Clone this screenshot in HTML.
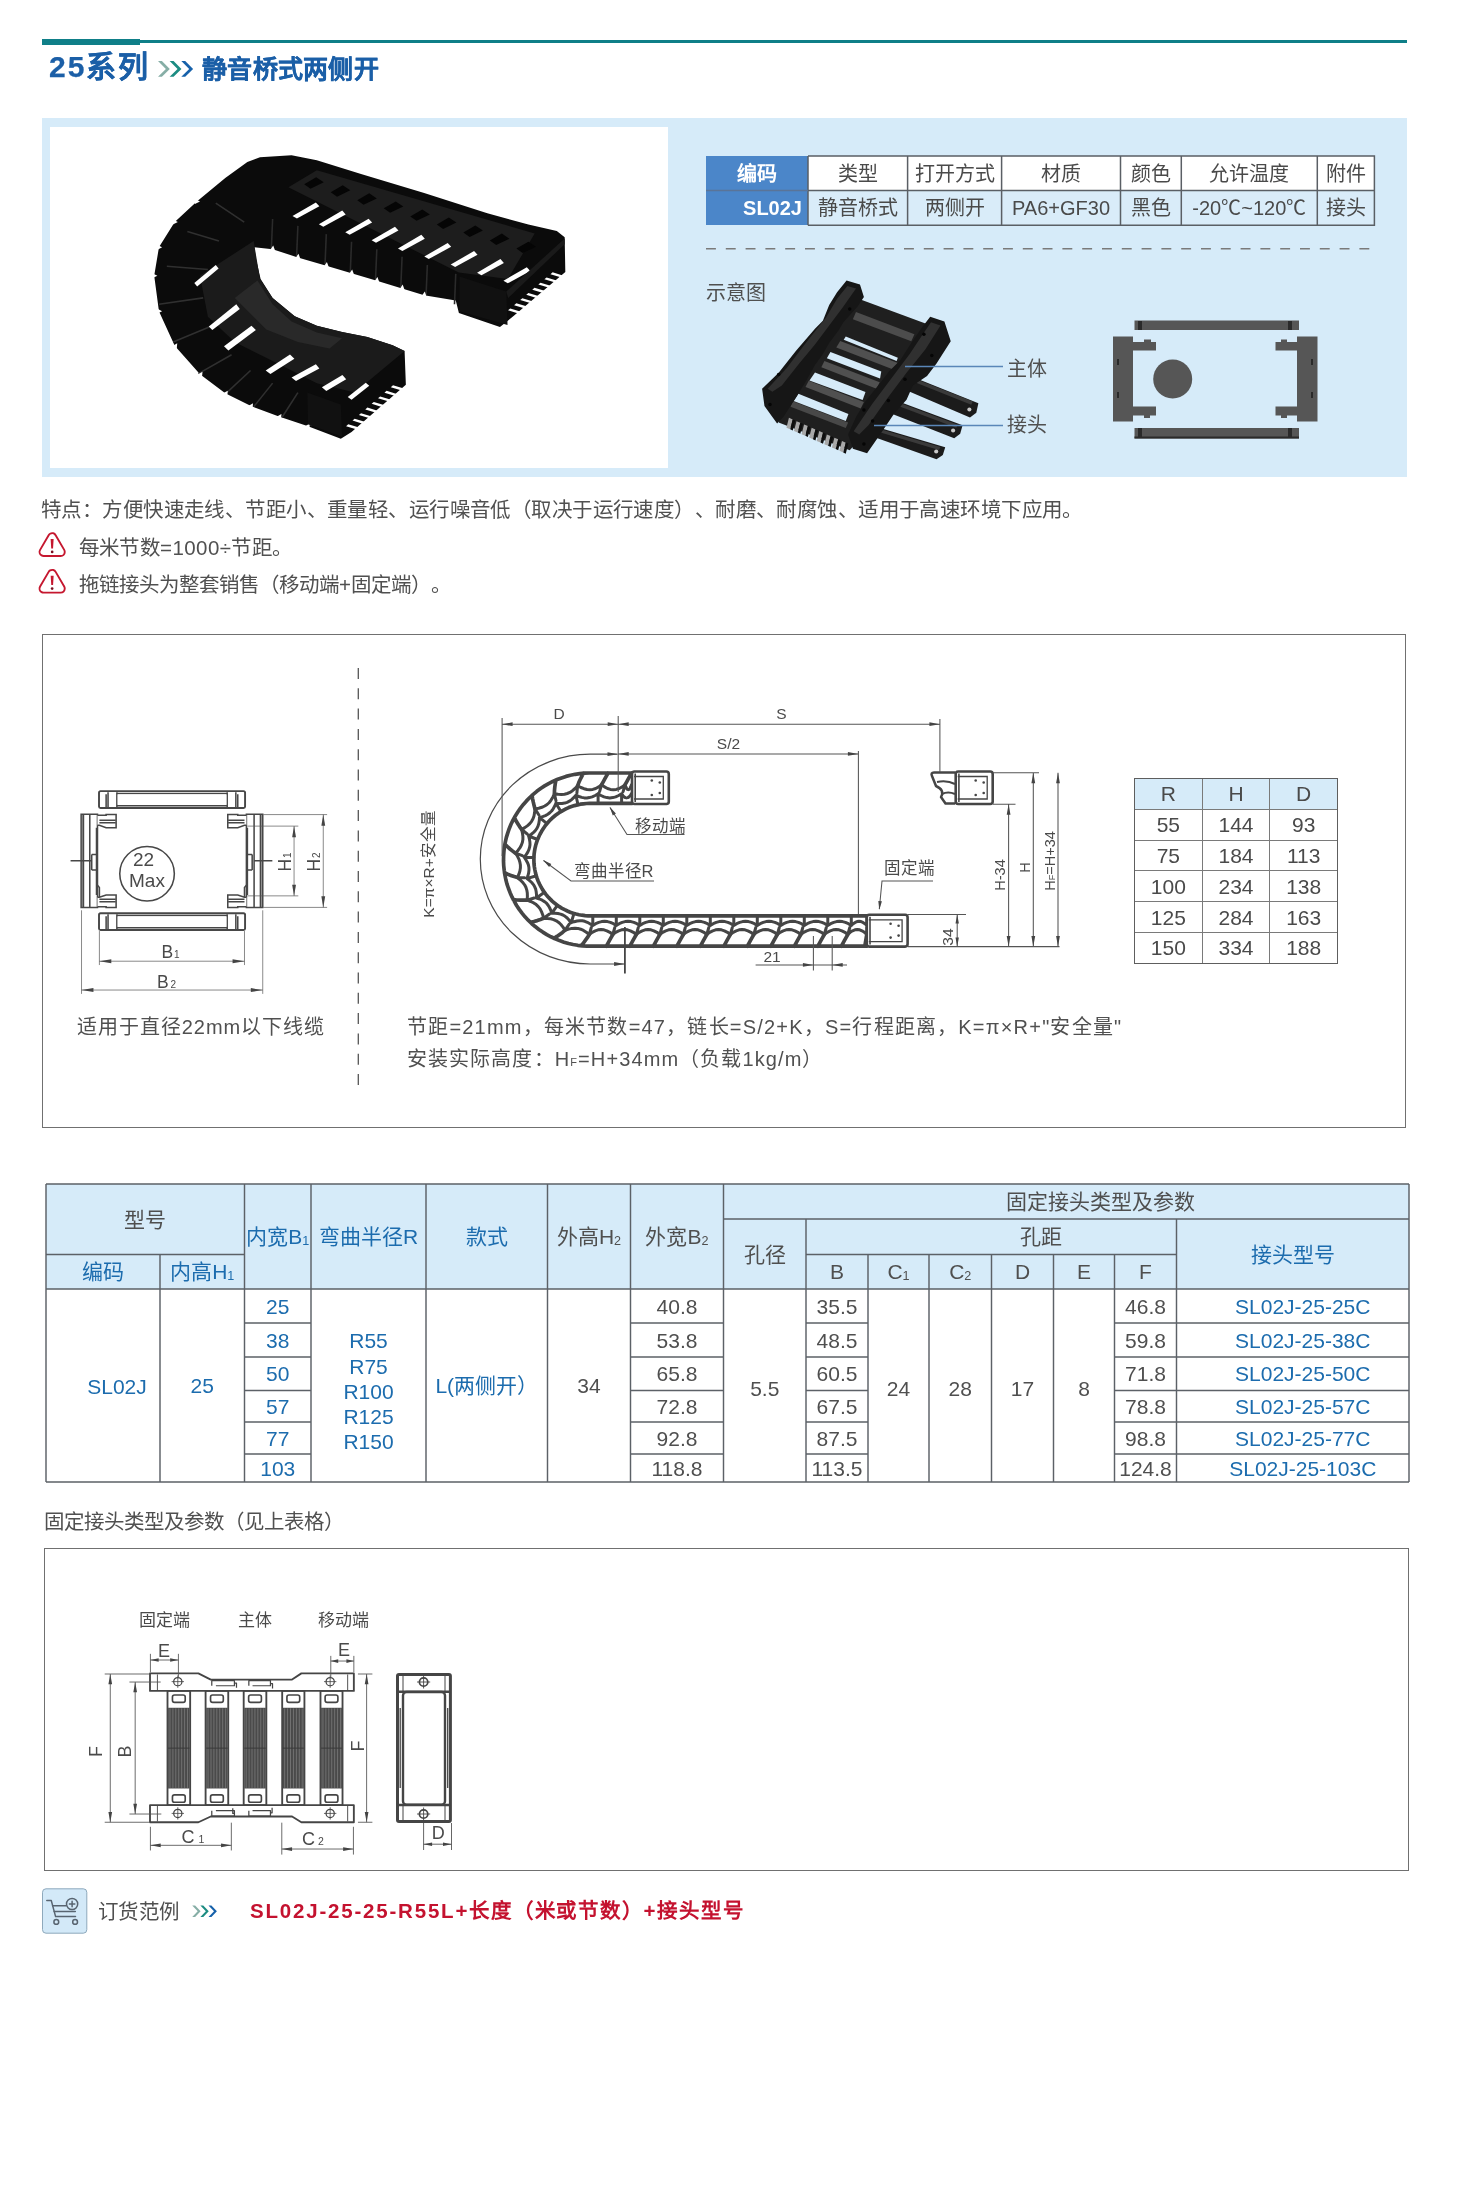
<!DOCTYPE html>
<html lang="zh-CN">
<head>
<meta charset="utf-8">
<title>25系列 静音桥式两侧开</title>
<style>
*{box-sizing:border-box;margin:0;padding:0}
html,body{width:1457px;height:2189px;background:#fff;overflow:hidden}
body{will-change:transform;text-spacing-trim:space-all;position:relative;font-family:"Liberation Sans",sans-serif;color:#505050;font-size:20px}
.abs{position:absolute}
.t{position:absolute;white-space:nowrap;line-height:1}
svg{position:absolute;overflow:visible}
sub{font-size:60%;vertical-align:baseline;position:relative;top:1px}
/* header */
#hl1{left:42px;top:40px;width:1365px;height:3px;background:#0f7f88}
#hl2{left:42px;top:39px;width:98px;height:6px;background:#0f7f88}
#title1,#title2{-webkit-text-stroke:.25px #1b5fa7}
#title1{left:49px;top:52px;font-size:30px;font-weight:bold;color:#1b5fa7;letter-spacing:2px}
#title2{left:202px;top:57px;letter-spacing:.25px;font-size:25px;font-weight:bold;color:#1b5fa7}
/* panel */
#panel{left:42px;top:118px;width:1365px;height:359px;background:#d6ebf9}
#photo{left:50px;top:127px;width:618px;height:341px;background:#fff}
/* spec table */
table{border-collapse:collapse;position:absolute;table-layout:fixed}
#spec{left:706px;top:156px;width:668.4px;height:69.2px;font-size:20px;color:#4a4a4a}
#spec td{border:0;text-align:center;padding:0;height:34.6px;line-height:1;white-space:nowrap;overflow:hidden}
#spec tr:first-child td{background:#fff}
#spec tr:last-child td{background:#d9ecf9}
#spec td.h{background:#4b86c9 !important;color:#fff;font-weight:bold}
#spec tr:first-child td{padding-top:2px}
#dash{left:706px;top:248px;width:668px;height:0;border-top:1.5px dashed #7a7a7a}
/* notes */
.note{font-size:20.5px;color:#505050}
/* boxes */
.box{position:absolute;border:1px solid #707070;background:#fff}
/* rhd table */
#rhd{left:1134px;top:778px;width:204px;height:185px;font-size:21px;color:#4a4a4a}
#rhd td{border:1.3px solid #7a7a7a;text-align:center;padding:0;line-height:1;height:30.8px}
#rhd tr:first-child td{background:#d6ebf9}
#rhd{outline:1.6px solid #5e5e5e;outline-offset:-1px}
/* main table */
#main{left:46px;top:1183px;width:1364px;font-size:21px;color:#4f4f4f}
#main td{border:0;text-align:center;vertical-align:middle;padding:0;line-height:1;white-space:nowrap}
#main td.hd{background:#d6ebf9}
#main .b{color:#1c6cae}
#main td.rr{line-height:25.3px}
</style>
</head>
<body>
<!-- header -->
<div class="abs" id="hl1"></div>
<div class="abs" id="hl2"></div>
<div class="t" id="title1">25系列</div>
<svg id="chev1" style="left:0;top:0" width="300" height="81" viewBox="0 0 300 81"><path fill="#86aea6" d="M158 61.1 L161.9 61.1 L169.8 68.95 L161.9 76.8 L158 76.8 L165.9 68.95Z"/><path fill="#1c8c82" d="M169.65 61.1 L173.55 61.1 L181.45 68.95 L173.55 76.8 L169.65 76.8 L177.55 68.95Z"/><path fill="#1661aa" d="M181.3 61.1 L185.2 61.1 L193.1 68.95 L185.2 76.8 L181.3 76.8 L189.2 68.95Z"/></svg>
<div class="t" id="title2">静音桥式两侧开</div>

<!-- top panel -->
<div class="abs" id="panel"></div>
<div class="abs" id="photo"></div>
<!--PH0-->
<svg id="photoSvg" style="left:0;top:0" width="700" height="480" viewBox="0 0 700 480">
<g transform="translate(140,140) scale(0.31575)">
<path fill="#0b0b0b"  d="M380 55 L480 48 L560 64 L700 108 L900 168 L1100 232 L1230 268 L1320 288 L1345 308 L1347 418 L1184 557 L1140 592 L1010 548 L1000 508 L900 492 L830 470 L750 446 L670 422 L590 398 L500 372 L420 346 L362 340 L368 380 L382 440 L420 500 L490 558 L560 588 L640 608 L720 624 L800 650 L838 668 L842 775 L670 925 L636 946 L530 906 L440 876 L350 842 L270 802 L190 742 L110 652 L60 542 L45 430 L60 340 L110 260 L180 195 L270 120 L340 70 Z"/>
<path fill="#1d1d1d"  d="M470 150 L560 96 L1250 296 L1165 440 L1010 420 Z"/>
<path fill="#1b1b1b"  d="M190 430 L360 320 L380 440 L420 500 L490 558 L560 588 L640 608 L720 624 L800 650 L838 668 L680 800 L560 770 L420 700 L300 640 L215 560 Z"/>
<path fill="#292929"  d="M300 500 L372 445 L420 520 L480 575 L560 610 L640 628 L600 660 L500 640 L400 600 Z"/>
<path fill="#050505"  d="M520 140 L558 118 L582 134 L540 154 Z"/>
<path fill="#050505"  d="M604 165.5 L642 143.5 L666 159.5 L624 179.5 Z"/>
<path fill="#050505"  d="M688 191 L726 169 L750 185 L708 205 Z"/>
<path fill="#050505"  d="M772 216.5 L810 194.5 L834 210.5 L792 230.5 Z"/>
<path fill="#050505"  d="M856 242 L894 220 L918 236 L876 256 Z"/>
<path fill="#050505"  d="M940 267.5 L978 245.5 L1002 261.5 L960 281.5 Z"/>
<path fill="#050505"  d="M1024 293 L1062 271 L1086 287 L1044 307 Z"/>
<path fill="#050505"  d="M1108 318.5 L1146 296.5 L1170 312.5 L1128 332.5 Z"/>
<path fill="#050505"  d="M1192 344 L1230 322 L1254 338 L1212 358 Z"/>
<path d="M420 250 l-4 96" stroke="#2b2b2b" stroke-width="5" fill="none"/>
<path d="M500 272 l-4 96" stroke="#2b2b2b" stroke-width="5" fill="none"/>
<path d="M590 298 l-4 96" stroke="#2b2b2b" stroke-width="5" fill="none"/>
<path d="M670 322 l-4 96" stroke="#2b2b2b" stroke-width="5" fill="none"/>
<path d="M750 346 l-4 96" stroke="#2b2b2b" stroke-width="5" fill="none"/>
<path d="M830 370 l-4 96" stroke="#2b2b2b" stroke-width="5" fill="none"/>
<path d="M910 396 l-4 96" stroke="#2b2b2b" stroke-width="5" fill="none"/>
<path d="M1000 424 l-4 96" stroke="#2b2b2b" stroke-width="5" fill="none"/>
<path d="M240 200 L330 260" stroke="#303030" stroke-width="5" fill="none"/>
<path d="M150 290 L250 320" stroke="#303030" stroke-width="5" fill="none"/>
<path d="M85 400 L215 410" stroke="#303030" stroke-width="5" fill="none"/>
<path d="M60 520 L200 500" stroke="#303030" stroke-width="5" fill="none"/>
<path d="M105 640 L225 590" stroke="#303030" stroke-width="5" fill="none"/>
<path d="M185 740 L290 680" stroke="#303030" stroke-width="5" fill="none"/>
<path d="M275 800 L350 730" stroke="#303030" stroke-width="5" fill="none"/>
<path d="M360 845 L420 770" stroke="#303030" stroke-width="5" fill="none"/>
<path d="M450 878 L500 800" stroke="#303030" stroke-width="5" fill="none"/>
<path d="M540 905 L585 830" stroke="#303030" stroke-width="5" fill="none"/>
<path fill="#fff"  d="M483 241 L557 198 L568 210 L497 249 Z"/>
<path fill="#fff"  d="M566.5 266.6 L640.5 223.6 L651.5 235.6 L580.5 274.6 Z"/>
<path fill="#fff"  d="M650 292.2 L724 249.2 L735 261.2 L664 300.2 Z"/>
<path fill="#fff"  d="M733.5 317.8 L807.5 274.8 L818.5 286.8 L747.5 325.8 Z"/>
<path fill="#fff"  d="M817 343.4 L891 300.4 L902 312.4 L831 351.4 Z"/>
<path fill="#fff"  d="M900.5 369 L974.5 326 L985.5 338 L914.5 377 Z"/>
<path fill="#fff"  d="M984 394.6 L1058 351.6 L1069 363.6 L998 402.6 Z"/>
<path fill="#fff"  d="M1067.5 420.2 L1141.5 377.2 L1152.5 389.2 L1081.5 428.2 Z"/>
<path fill="#fff"  d="M1151 445.8 L1225 402.8 L1236 414.8 L1165 453.8 Z"/>
<path fill="#fff"  d="M172 453 L240 396 L249 407 L181 464 Z"/>
<path fill="#fff"  d="M218 591 L305 520 L316 535 L229 602 Z"/>
<path fill="#fff"  d="M266 653 L353 588 L367 602 L280 667 Z"/>
<path fill="#fff"  d="M398 730 L475 679 L489 693 L413 741 Z"/>
<path fill="#fff"  d="M480 752 L557 710 L568 724 L494 763 Z"/>
<path fill="#fff"  d="M576 783 L641 744 L653 758 L590 795 Z"/>
<path fill="#fff"  d="M658 814 L715 769 L726 778 L670 823 Z"/>
<path fill="#fff"  d="M1341.2 429.6 L1334.4 435.4 L1300 425 L1306.8 419.1 Z"/>
<path fill="#fff"  d="M1322.1 445.9 L1315.2 451.7 L1280.8 441.3 L1287.6 435.5 Z"/>
<path fill="#fff"  d="M1302.9 462.3 L1296 468.1 L1261.6 457.7 L1268.5 451.8 Z"/>
<path fill="#fff"  d="M1283.7 478.6 L1276.9 484.5 L1242.4 474 L1249.3 468.2 Z"/>
<path fill="#fff"  d="M1264.5 495 L1257.7 500.8 L1223.3 490.4 L1230.1 484.5 Z"/>
<path fill="#fff"  d="M1245.3 511.3 L1238.5 517.2 L1204.1 506.7 L1210.9 500.9 Z"/>
<path fill="#fff"  d="M1226.2 527.7 L1219.3 533.5 L1184.9 523.1 L1191.8 517.2 Z"/>
<path fill="#fff"  d="M1207 544 L1200.1 549.9 L1165.7 539.4 L1172.6 533.6 Z"/>
<path fill="#fff"  d="M835.6 787.3 L828.8 793.2 L794.4 782.8 L801.2 776.9 Z"/>
<path fill="#fff"  d="M815.4 805 L808.6 810.9 L774.2 800.5 L780.9 794.5 Z"/>
<path fill="#fff"  d="M795.1 822.6 L788.3 828.5 L753.9 818.1 L760.7 812.2 Z"/>
<path fill="#fff"  d="M774.9 840.3 L768.1 846.2 L733.7 835.7 L740.5 829.8 Z"/>
<path fill="#fff"  d="M754.7 857.9 L747.9 863.8 L713.5 853.4 L720.2 847.5 Z"/>
<path fill="#fff"  d="M734.4 875.6 L727.6 881.5 L693.2 871 L700 865.1 Z"/>
<path fill="#fff"  d="M714.2 893.2 L707.4 899.1 L673 888.7 L679.8 882.8 Z"/>
<path fill="#fff"  d="M693.9 910.9 L687.2 916.8 L652.7 906.3 L659.5 900.4 Z"/>
<path fill="#fff"  d="M411 350 L429 354 L422 334 Z"/>
<path fill="#fff"  d="M491 376 L509 380 L502 360 Z"/>
<path fill="#fff"  d="M581 402 L599 406 L592 386 Z"/>
<path fill="#fff"  d="M661 426 L679 430 L672 410 Z"/>
<path fill="#fff"  d="M741 450 L759 454 L752 434 Z"/>
<path fill="#fff"  d="M821 474 L839 478 L832 458 Z"/>
<path fill="#fff"  d="M891 496 L909 500 L902 480 Z"/>
<path fill="#fff"  d="M100 654 L116 664 L118 644 Z"/>
<path fill="#fff"  d="M180 744 L196 754 L198 734 Z"/>
<path fill="#fff"  d="M260 804 L276 814 L278 794 Z"/>
<path fill="#fff"  d="M340 844 L356 854 L358 834 Z"/>
<path fill="#fff"  d="M430 878 L446 888 L448 868 Z"/>
<path fill="#fff"  d="M520 908 L536 918 L538 898 Z"/>
<path fill="#fff"  d="M54 534 L54 550 L70 542 Z"/>
<path fill="#fff"  d="M39 422 L39 438 L55 430 Z"/>
<path fill="#fff"  d="M54 332 L54 348 L70 340 Z"/>
<path fill="#fff"  d="M104 252 L104 268 L120 260 Z"/>
<path fill="#fff"  d="M174 187 L174 203 L190 195 Z"/>
<path fill="#111"  d="M1012 432 L1160 480 L1164 586 L1012 542 Z"/>
<path fill="#1a1a1a"  d="M1160 480 L1345 312 L1345 330 L1166 500 Z"/>
<path fill="#111"  d="M530 800 L636 838 L640 940 L532 900 Z"/>
</g></svg>
<!--PH1-->

<table id="spec">
<colgroup><col style="width:102px"><col style="width:99.6px"><col style="width:94px"><col style="width:118.9px"><col style="width:60.8px"><col style="width:136px"><col style="width:57.1px"></colgroup>
<tr><td class="h">编码</td><td>类型</td><td>打开方式</td><td>材质</td><td>颜色</td><td>允许温度</td><td>附件</td></tr>
<tr><td class="h" style="text-align:right;padding-right:6px">SL02J</td><td>静音桥式</td><td>两侧开</td><td>PA6+GF30</td><td>黑色</td><td>-20℃~120℃</td><td>接头</td></tr>
</table>
<svg style="left:0;top:0" width="1400" height="260"><path d="M706 248.8H1374" stroke="#7a7a7a" stroke-width="1.4" stroke-dasharray="9.9 9.9" fill="none"/></svg>
<svg style="left:0;top:0" width="1400" height="240"><path d="M808 156H1374.4V225.2H808M808 190.6H1374.4M808 156V225.2M907.6 156V225.2M1001.6 156V225.2M1120.5 156V225.2M1181.3 156V225.2M1317.3 156V225.2" fill="none" stroke="#5a5f65" stroke-width="1.5"/><path d="M706 190.6H808" stroke="#5a7498" stroke-width="1.5"/></svg>
<div class="t" style="left:706px;top:283px;font-size:20px">示意图</div>
<!--IS0-->
<svg id="isoSvg" style="left:0;top:0" width="1100" height="480" viewBox="0 0 1100 480">
<g transform="translate(755,275) scale(0.15785)">
<path fill="#1b1b1b"  d="M960 630 L1415 812 L1402 872 L1362 902 L940 722 Z"/>
<path fill="#1b1b1b"  d="M880 790 L1315 952 L1300 1005 L1262 1034 L850 872 Z"/>
<path fill="#1b1b1b"  d="M760 960 L1205 1092 L1190 1140 L1150 1168 L740 1022 Z"/>
<path fill="#3a3a3a"  d="M990 648 L1380 802 L1370 822 L985 668 Z"/>
<path fill="#3a3a3a"  d="M905 806 L1285 948 L1275 968 L900 826 Z"/>
<path fill="#3a3a3a"  d="M790 976 L1175 1090 L1165 1108 L785 994 Z"/>
<circle cx="1358" cy="852" r="13" fill="#c8c8c8"/>
<circle cx="1255" cy="985" r="13" fill="#c8c8c8"/>
<circle cx="1148" cy="1118" r="13" fill="#c8c8c8"/>
<path fill="#1f1f1f"  d="M600 130 L1110 318 L700 1000 L600 1110 L150 935 L190 800 Z"/>
<path fill="#4c4c4c"  d="M640 235 L1010 375 L990 420 L620 280 Z"/>
<path fill="#505050"  d="M540 418 L905 558 L880 600 L515 460 Z"/>
<path fill="#505050"  d="M440 545 L790 680 L770 720 L420 585 Z"/>
<path fill="#505050"  d="M340 670 L690 805 L670 845 L320 710 Z"/>
<path fill="#484848"  d="M240 800 L590 935 L575 970 L225 835 Z"/>
<path fill="#d6ebf9"  d="M575 390 L905 525 L897 545 L562 410 Z"/>
<path fill="#d6ebf9"  d="M478 488 L800 612 L792 655 L455 528 Z"/>
<path fill="#d6ebf9"  d="M380 618 L700 742 L682 792 L345 668 Z"/>
<path fill="#d6ebf9"  d="M275 752 L592 880 L575 925 L245 798 Z"/>
<path fill="#a8a8a8"  d="M215 905 L239 915 L223 977 L199 967 Z"/>
<path fill="#0e0e0e"  d="M239 915 L255 921 L239 985 L223 977 Z"/>
<path fill="#a8a8a8"  d="M263 926 L287 936 L271 998 L247 988 Z"/>
<path fill="#0e0e0e"  d="M287 936 L303 942 L287 1006 L271 998 Z"/>
<path fill="#a8a8a8"  d="M311 947 L335 957 L319 1019 L295 1009 Z"/>
<path fill="#0e0e0e"  d="M335 957 L351 963 L335 1027 L319 1019 Z"/>
<path fill="#a8a8a8"  d="M359 968 L383 978 L367 1040 L343 1030 Z"/>
<path fill="#0e0e0e"  d="M383 978 L399 984 L383 1048 L367 1040 Z"/>
<path fill="#a8a8a8"  d="M407 989 L431 999 L415 1061 L391 1051 Z"/>
<path fill="#0e0e0e"  d="M431 999 L447 1005 L431 1069 L415 1061 Z"/>
<path fill="#a8a8a8"  d="M455 1010 L479 1020 L463 1082 L439 1072 Z"/>
<path fill="#0e0e0e"  d="M479 1020 L495 1026 L479 1090 L463 1082 Z"/>
<path fill="#a8a8a8"  d="M503 1031 L527 1041 L511 1103 L487 1093 Z"/>
<path fill="#0e0e0e"  d="M527 1041 L543 1047 L527 1111 L511 1103 Z"/>
<path fill="#a8a8a8"  d="M551 1052 L575 1062 L559 1124 L535 1114 Z"/>
<path fill="#0e0e0e"  d="M575 1062 L591 1068 L575 1132 L559 1124 Z"/>
<path fill="#161616"  d="M580 35 L665 60 L690 140 L650 200 L560 300 L530 350 L470 430 L430 500 L380 570 L330 660 L270 760 L180 900 L140 940 L60 830 L45 720 L150 620 L260 480 L320 410 L380 340 L430 290 L470 190 L520 110 Z"/>
<path fill="#303030"  d="M585 70 L640 85 L560 200 L470 320 L380 440 L280 560 L170 700 L110 740 L80 720 L200 590 L330 420 L450 270 L520 150 Z"/>
<path fill="#161616"  d="M1110 265 L1200 295 L1240 420 L1150 560 L1090 640 L1000 700 L960 790 L880 880 L800 1000 L710 1130 L620 1100 L590 1010 L640 900 L700 800 L780 700 L850 610 L920 540 L990 430 L1060 330 Z"/>
<path fill="#303030"  d="M1115 300 L1175 320 L1080 470 L960 620 L840 780 L720 950 L660 1010 L625 990 L740 820 L860 660 L980 500 L1060 380 Z"/>
<circle cx="1070" cy="375" r="11" fill="#050505"/>
<circle cx="1120" cy="510" r="11" fill="#050505"/>
<circle cx="950" cy="660" r="11" fill="#050505"/>
<circle cx="845" cy="795" r="11" fill="#050505"/>
<circle cx="690" cy="855" r="11" fill="#050505"/>
<circle cx="745" cy="925" r="11" fill="#050505"/>
<circle cx="690" cy="1070" r="11" fill="#050505"/>
<circle cx="150" cy="630" r="11" fill="#050505"/>
<circle cx="95" cy="820" r="11" fill="#050505"/>
<circle cx="600" cy="215" r="11" fill="#050505"/>
</g>
<path d="M905 366.5H1003 M874 425.5H1003" stroke="#5a86b8" stroke-width="1.3" fill="none"/>
</svg>
<!--IS1-->
<!--SE0-->
<svg id="secSvg" style="left:0;top:0" width="1400" height="480" viewBox="0 0 1400 480">
<g fill="#565656">
<rect x="1134.5" y="320.5" width="164.5" height="9.5"/><rect x="1134.5" y="428" width="164.5" height="10.5"/>
<rect x="1113" y="336.5" width="20" height="85"/><rect x="1297" y="336.5" width="20.5" height="85"/>
<rect x="1133" y="342" width="23" height="8.5"/><rect x="1133" y="406.5" width="23" height="9"/>
<rect x="1275.5" y="342" width="22" height="8.5"/><rect x="1275.5" y="406.5" width="22" height="9"/>
<rect x="1144" y="339.5" width="7" height="3"/><rect x="1144" y="415" width="6" height="3"/><rect x="1281" y="339.5" width="6" height="3"/><rect x="1281" y="415" width="6" height="3"/>
<circle cx="1172.7" cy="379" r="19.5"/>
</g>
<g fill="#2a2a2a"><rect x="1138" y="321" width="4" height="9"/><rect x="1288" y="321" width="4" height="9"/><rect x="1138" y="428" width="4" height="10"/><rect x="1288" y="428" width="4" height="10"/>
<rect x="1134.5" y="436.5" width="164.5" height="2"/>
<rect x="1117" y="359" width="2" height="6"/><rect x="1117" y="392" width="2" height="6"/><rect x="1311" y="359" width="2" height="6"/><rect x="1311" y="392" width="2" height="6"/></g>
</svg>
<!--SE1-->
<div class="t" style="left:1007px;top:359px;font-size:20px">主体</div>
<div class="t" style="left:1007px;top:415px;font-size:20px">接头</div>

<!-- notes -->
<div class="t note" style="left:41px;top:500px;letter-spacing:.43px">特点：方便快速走线、节距小、重量轻、运行噪音低（取决于运行速度）、耐磨、耐腐蚀、适用于高速环境下应用。</div>
<svg id="warnSvg" style="left:0;top:0" width="120" height="620" viewBox="0 0 120 620"><path d="M52.15 537.2 L43.6 551.9 L60.7 551.9Z" fill="#c5172f" stroke="#c5172f" stroke-width="10" stroke-linejoin="round"/><path d="M52.15 537.2 L43.6 551.9 L60.7 551.9Z" fill="#fff" stroke="#fff" stroke-width="6.2" stroke-linejoin="round"/><path d="M52.15 539 l-1.5 0 l0.6 9.4 l1.8 0 l0.6 -9.4z" fill="#c5172f"/><circle cx="52.15" cy="551.9" r="1.35" fill="#7a1020"/><path d="M52.15 573.9 L43.6 588.6 L60.7 588.6Z" fill="#c5172f" stroke="#c5172f" stroke-width="10" stroke-linejoin="round"/><path d="M52.15 573.9 L43.6 588.6 L60.7 588.6Z" fill="#fff" stroke="#fff" stroke-width="6.2" stroke-linejoin="round"/><path d="M52.15 575.7 l-1.5 0 l0.6 9.4 l1.8 0 l0.6 -9.4z" fill="#c5172f"/><circle cx="52.15" cy="588.6" r="1.35" fill="#7a1020"/></svg>
<div class="t note" style="left:78.5px;top:538px;letter-spacing:.4px">每米节数=1000÷节距。</div>
<div class="t note" style="left:78.5px;top:575px;letter-spacing:.03px">拖链接头为整套销售（移动端+固定端）。</div>

<!-- diagram box 1 -->
<div class="box" style="left:42px;top:634px;width:1364px;height:494px"></div>
<!--D1A0-->
<svg id="d1a" style="left:0;top:0" width="480" height="1130" viewBox="0 0 480 1130">
<g transform="translate(60,770) scale(0.192175)" fill="none" stroke="#474747" stroke-linecap="butt">
<rect x="203" y="110" width="760" height="88" rx="8" stroke-width="10" fill="#fff"/><path d="M240 126 V192 M250 116 V192 M296 116 V192 M870 116 V192 M915 116 V192 M925 126 V192" stroke-width="8"/><path d="M296 122 H870" stroke-width="8"/><path d="M296 186 H870" stroke-width="8"/><rect x="300" y="127" width="566" height="54" fill="#fff" stroke="none"/>
<rect x="203" y="745" width="760" height="88" rx="8" stroke-width="10" fill="#fff"/><path d="M240 761 V827 M250 751 V827 M296 751 V827 M870 751 V827 M915 751 V827 M925 761 V827" stroke-width="8"/><path d="M296 757 H870" stroke-width="8"/><path d="M296 821 H870" stroke-width="8"/><rect x="300" y="762" width="566" height="54" fill="#fff" stroke="none"/>
<g><path d="M110 230 H195 V716 H110 Z" stroke-width="8" fill="#fff"/><path d="M121 230 V716" stroke-width="10"/><path d="M155 232 V714 M190 300 V650" stroke-width="8"/><path d="M165 440 H190 M165 520 H190 M165 440 V520" stroke-width="8"/><path d="M195 236 H240 V232 H292 V300 H240 L205 288 H195" stroke-width="8" fill="#fff"/><path d="M205 262 H290 M205 275 H290" stroke-width="8"/><path d="M195 712 H240 V716 H292 V650 H240 L205 662 H195" stroke-width="8" fill="#fff"/><path d="M205 686 H290 M205 673 H290" stroke-width="8"/><path d="M195 600 L205 612 V662" stroke-width="8"/></g>
<g transform="translate(1165,0) scale(-1,1)"><path d="M110 230 H195 V716 H110 Z" stroke-width="8" fill="#fff"/><path d="M121 230 V716" stroke-width="10"/><path d="M155 232 V714 M190 300 V650" stroke-width="8"/><path d="M165 440 H190 M165 520 H190 M165 440 V520" stroke-width="8"/><path d="M195 236 H240 V232 H292 V300 H240 L205 288 H195" stroke-width="8" fill="#fff"/><path d="M205 262 H290 M205 275 H290" stroke-width="8"/><path d="M195 712 H240 V716 H292 V650 H240 L205 662 H195" stroke-width="8" fill="#fff"/><path d="M205 686 H290 M205 673 H290" stroke-width="8"/><path d="M195 600 L205 612 V662" stroke-width="8"/></g>
<circle cx="453" cy="540" r="142" stroke-width="8"/>
<path d="M55 472 H165 M1010 472 H1105" stroke-width="8"/>
<g stroke="#555" stroke-width="3.6">
<path d="M975 292 H1240 M975 655 H1240 M1218 292 V655"/>
<path d="M1058 232 H1390 M1058 715 H1390 M1370 232 V715"/>
<path d="M205 838 V1015 M960 838 V1015 M205 995 H960"/>
<path d="M112 730 V1165 M1055 730 V1165 M112 1145 H1055"/>
</g>
<g fill="#444" stroke="none">
<path d="M1218 292 L1228 350 L1208 350 Z"/><path d="M1218 655 L1208 597 L1228 597 Z"/><path d="M1370 232 L1380 290 L1360 290 Z"/><path d="M1370 715 L1360 657 L1380 657 Z"/>
<path d="M205 995 L267 985 L267 1005 Z"/><path d="M960 995 L898 1005 L898 985 Z"/><path d="M112 1145 L174 1135 L174 1155 Z"/><path d="M1055 1145 L993 1155 L993 1135 Z"/>
</g>
</g>
<text x="143.5" y="865.5" font-size="19" text-anchor="middle" font-family="Liberation Sans, sans-serif" fill="#4a4a4a">22</text>
<text x="147" y="886.5" font-size="19" text-anchor="middle" font-family="Liberation Sans, sans-serif" fill="#4a4a4a">Max</text>
<text x="170.5" y="958" font-size="17.5" text-anchor="middle" font-family="Liberation Sans, sans-serif" fill="#4a4a4a">B<tspan font-size="10" dx="1">1</tspan></text>
<text x="166.5" y="988" font-size="17.5" text-anchor="middle" font-family="Liberation Sans, sans-serif" fill="#4a4a4a">B<tspan font-size="10" dx="2">2</tspan></text>
<text transform="translate(290.5,862) rotate(-90)" font-size="17.5" text-anchor="middle" font-family="Liberation Sans, sans-serif" fill="#4a4a4a">H<tspan font-size="10" dx="1">1</tspan></text>
<text transform="translate(320,862) rotate(-90)" font-size="17.5" text-anchor="middle" font-family="Liberation Sans, sans-serif" fill="#4a4a4a">H<tspan font-size="10" dx="1">2</tspan></text>
<path d="M358.3 668 V1093" stroke="#555" stroke-width="1.3" stroke-dasharray="11 9.3" fill="none"/>
<text transform="translate(433.5,864) rotate(-90)" font-size="15.5" text-anchor="middle" font-family="Liberation Sans, sans-serif" fill="#4a4a4a">K=π×R+安全量</text>
</svg>
<!--D1A1-->
<!--D1B0-->
<svg id="d1b" style="left:0;top:0" width="1120" height="1130" viewBox="0 0 1120 1130">
<g fill="none" stroke="#454545" stroke-linejoin="round" stroke-linecap="round">
<path d="M632.0 773.0 L628.1 773.0 L624.2 773.0 L620.4 773.0 L616.5 773.0 L612.6 773.0 L608.7 773.0 L604.9 773.0 L601.0 773.0 L597.1 773.0 L593.2 773.0 L589.2 773.0 L584.5 773.2 L579.8 773.6 L575.1 774.3 L570.5 775.2 L566.0 776.4 L561.5 777.9 L557.1 779.5 L552.8 781.4 L548.6 783.6 L544.6 785.9 L540.6 788.5 L536.8 791.3 L533.2 794.3 L529.8 797.5 L526.5 800.9 L523.4 804.4 L520.5 808.1 L517.8 812.0 L515.3 816.0 L513.0 820.1 L511.0 824.3 L509.2 828.7 L507.7 833.1 L506.3 837.6 L505.3 842.2 L504.4 846.8 L503.9 851.5 L503.6 856.2 L503.5 860.9 L503.7 865.6 L504.2 870.3 L504.9 874.9 L505.8 879.5 L507.0 884.1 L508.5 888.5 L510.2 892.9 L512.1 897.2 L514.3 901.4 L516.6 905.5 L519.2 909.4 L522.0 913.1 L525.0 916.8 L528.2 920.2 L531.6 923.5 L535.2 926.6 L538.9 929.4 L542.8 932.1 L546.8 934.6 L550.9 936.8 L555.2 938.8 L559.5 940.6 L564.0 942.2 L568.5 943.5 L573.1 944.5 L577.7 945.3 L582.4 945.9 L587.1 946.1 L591.5 946.2 L595.3 946.2 L599.2 946.2 L603.1 946.2 L607.0 946.2 L610.9 946.2 L614.7 946.2 L618.6 946.2 L622.5 946.2 L626.4 946.2 L630.2 946.2 L634.1 946.2 L638.0 946.2 L641.9 946.2 L645.8 946.2 L649.6 946.2 L653.5 946.2 L657.4 946.2 L661.3 946.2 L665.1 946.2 L669.0 946.2 L672.9 946.2 L676.8 946.2 L680.7 946.2 L684.5 946.2 L688.4 946.2 L692.3 946.2 L696.2 946.2 L700.0 946.2 L703.9 946.2 L707.8 946.2 L711.7 946.2 L715.6 946.2 L719.4 946.2 L723.3 946.2 L727.2 946.2 L731.1 946.2 L735.0 946.2 L738.8 946.2 L742.7 946.2 L746.6 946.2 L750.5 946.2 L754.3 946.2 L758.2 946.2 L762.1 946.2 L766.0 946.2 L769.9 946.2 L773.7 946.2 L777.6 946.2 L781.5 946.2 L785.4 946.2 L789.2 946.2 L793.1 946.2 L797.0 946.2 L800.9 946.2 L804.8 946.2 L808.6 946.2 L812.5 946.2 L816.4 946.2 L820.3 946.2 L824.1 946.2 L828.0 946.2 L831.9 946.2 L835.8 946.2 L839.7 946.2 L843.5 946.2 L847.4 946.2 L851.3 946.2 L855.2 946.2 L859.0 946.2 L862.9 946.2 L866.8 946.2 M632.0 803.4 L628.1 803.4 L624.2 803.4 L620.4 803.4 L616.5 803.4 L612.6 803.4 L608.7 803.4 L604.9 803.4 L601.0 803.4 L597.1 803.4 L593.2 803.4 L589.5 803.4 L586.5 803.5 L583.4 803.8 L580.4 804.2 L577.4 804.9 L574.5 805.6 L571.5 806.6 L568.7 807.6 L565.9 808.9 L563.2 810.3 L560.5 811.8 L558.0 813.5 L555.5 815.3 L553.2 817.2 L550.9 819.3 L548.8 821.5 L546.8 823.8 L544.9 826.2 L543.2 828.7 L541.6 831.3 L540.1 834.0 L538.8 836.7 L537.6 839.5 L536.6 842.4 L535.7 845.3 L535.0 848.3 L534.5 851.3 L534.1 854.3 L533.9 857.4 L533.9 860.4 L534.0 863.5 L534.3 866.5 L534.8 869.5 L535.4 872.5 L536.2 875.5 L537.1 878.4 L538.2 881.2 L539.5 884.0 L540.9 886.7 L542.4 889.4 L544.1 891.9 L545.9 894.4 L547.9 896.7 L550.0 898.9 L552.2 901.1 L554.5 903.1 L556.9 904.9 L559.4 906.7 L562.0 908.3 L564.7 909.7 L567.4 911.0 L570.2 912.2 L573.1 913.2 L576.1 914.0 L579.0 914.7 L582.0 915.2 L585.1 915.6 L588.1 915.8 L591.5 915.8 L595.3 915.8 L599.2 915.8 L603.1 915.8 L607.0 915.8 L610.9 915.8 L614.7 915.8 L618.6 915.8 L622.5 915.8 L626.4 915.8 L630.2 915.8 L634.1 915.8 L638.0 915.8 L641.9 915.8 L645.8 915.8 L649.6 915.8 L653.5 915.8 L657.4 915.8 L661.3 915.8 L665.1 915.8 L669.0 915.8 L672.9 915.8 L676.8 915.8 L680.7 915.8 L684.5 915.8 L688.4 915.8 L692.3 915.8 L696.2 915.8 L700.0 915.8 L703.9 915.8 L707.8 915.8 L711.7 915.8 L715.6 915.8 L719.4 915.8 L723.3 915.8 L727.2 915.8 L731.1 915.8 L735.0 915.8 L738.8 915.8 L742.7 915.8 L746.6 915.8 L750.5 915.8 L754.3 915.8 L758.2 915.8 L762.1 915.8 L766.0 915.8 L769.9 915.8 L773.7 915.8 L777.6 915.8 L781.5 915.8 L785.4 915.8 L789.2 915.8 L793.1 915.8 L797.0 915.8 L800.9 915.8 L804.8 915.8 L808.6 915.8 L812.5 915.8 L816.4 915.8 L820.3 915.8 L824.1 915.8 L828.0 915.8 L831.9 915.8 L835.8 915.8 L839.7 915.8 L843.5 915.8 L847.4 915.8 L851.3 915.8 L855.2 915.8 L859.0 915.8 L862.9 915.8 L866.8 915.8 M864.8 946.2 L865.3 943.3 L865.8 940.4 L866.3 937.4 L866.8 934.5 M841.3 946.2 L842.9 943.3 L844.5 940.4 L846.2 937.4 L847.8 934.5 M817.8 946.2 L819.4 943.3 L821.0 940.4 L822.7 937.4 L824.3 934.5 M794.3 946.2 L795.9 943.3 L797.5 940.4 L799.2 937.4 L800.8 934.5 M770.8 946.2 L772.4 943.3 L774.0 940.4 L775.7 937.4 L777.3 934.5 M747.3 946.2 L748.9 943.3 L750.5 940.4 L752.2 937.4 L753.8 934.5 M723.8 946.2 L725.4 943.3 L727.0 940.4 L728.7 937.4 L730.3 934.5 M700.3 946.2 L701.9 943.3 L703.5 940.4 L705.2 937.4 L706.8 934.5 M676.8 946.2 L678.4 943.3 L680.0 940.4 L681.7 937.4 L683.3 934.5 M653.3 946.2 L654.9 943.3 L656.5 940.4 L658.2 937.4 L659.8 934.5 M629.8 946.2 L631.4 943.3 L633.0 940.4 L634.7 937.4 L636.3 934.5 M606.3 946.2 L607.9 943.3 L609.5 940.4 L611.2 937.4 L612.8 934.5 M581.3 945.7 L583.5 943.0 L585.5 940.2 L587.5 937.4 L589.3 934.5 M553.9 938.3 L556.9 936.4 L559.7 934.4 L562.5 932.4 L565.1 930.2 M530.4 922.3 L533.8 921.5 L537.2 920.6 L540.4 919.5 L543.6 918.3 M513.3 899.7 L516.8 900.0 L520.3 900.2 L523.7 900.2 L527.1 900.2 M504.5 872.7 L507.7 874.2 L510.9 875.4 L514.2 876.6 L517.4 877.6 M504.9 844.3 L507.4 846.7 L510.0 849.0 L512.7 851.1 L515.5 853.2 M514.4 817.6 L516.0 820.7 L517.8 823.7 L519.6 826.6 L521.6 829.4 M532.0 795.4 L532.6 798.8 L533.3 802.2 L534.1 805.6 L535.0 808.9 M555.9 780.1 L555.3 783.5 L554.8 787.0 L554.5 790.4 L554.4 793.8 M583.4 773.3 L581.8 776.3 L580.2 779.5 L578.8 782.6 L577.6 785.8 M608.1 773.0 L606.5 775.9 L604.8 778.9 L603.2 781.8 L601.6 784.7 M631.6 773.0 L630.0 775.9 L628.3 778.9 L626.7 781.8 L625.1 784.7" stroke-width="3.7"/>
<path d="M847.8 934.5 L850.2 932.3 L852.5 930.8 L854.9 929.8 L857.3 929.5 L859.7 929.8 L862.0 930.8 L864.4 932.3 L866.8 934.5 M851.3 925.5 L853.2 923.7 L855.2 922.4 L857.1 921.6 L859.0 921.3 L861.0 921.6 L862.9 922.4 L864.9 923.7 L866.8 925.5 M866.8 915.8 L866.8 925.5 M866.8 934.5 L866.8 927.5 M824.3 934.5 L827.2 932.3 L830.2 930.8 L833.1 929.8 L836.0 929.5 L839.0 929.8 L841.9 930.8 L844.9 932.3 L847.8 934.5 M827.8 925.5 L830.7 923.7 L833.7 922.4 L836.6 921.6 L839.5 921.3 L842.5 921.6 L845.4 922.4 L848.4 923.7 L851.3 925.5 M851.3 915.8 L851.3 925.5 M847.8 934.5 L849.8 927.5 M800.8 934.5 L803.7 932.3 L806.7 930.8 L809.6 929.8 L812.5 929.5 L815.5 929.8 L818.4 930.8 L821.4 932.3 L824.3 934.5 M804.3 925.5 L807.2 923.7 L810.2 922.4 L813.1 921.6 L816.0 921.3 L819.0 921.6 L821.9 922.4 L824.9 923.7 L827.8 925.5 M827.8 915.8 L827.8 925.5 M824.3 934.5 L826.3 927.5 M777.3 934.5 L780.2 932.3 L783.2 930.8 L786.1 929.8 L789.0 929.5 L792.0 929.8 L794.9 930.8 L797.9 932.3 L800.8 934.5 M780.8 925.5 L783.7 923.7 L786.7 922.4 L789.6 921.6 L792.5 921.3 L795.5 921.6 L798.4 922.4 L801.4 923.7 L804.3 925.5 M804.3 915.8 L804.3 925.5 M800.8 934.5 L802.8 927.5 M753.8 934.5 L756.7 932.3 L759.7 930.8 L762.6 929.8 L765.5 929.5 L768.5 929.8 L771.4 930.8 L774.4 932.3 L777.3 934.5 M757.3 925.5 L760.2 923.7 L763.2 922.4 L766.1 921.6 L769.0 921.3 L772.0 921.6 L774.9 922.4 L777.9 923.7 L780.8 925.5 M780.8 915.8 L780.8 925.5 M777.3 934.5 L779.3 927.5 M730.3 934.5 L733.2 932.3 L736.2 930.8 L739.1 929.8 L742.0 929.5 L745.0 929.8 L747.9 930.8 L750.9 932.3 L753.8 934.5 M733.8 925.5 L736.7 923.7 L739.7 922.4 L742.6 921.6 L745.5 921.3 L748.5 921.6 L751.4 922.4 L754.4 923.7 L757.3 925.5 M757.3 915.8 L757.3 925.5 M753.8 934.5 L755.8 927.5 M706.8 934.5 L709.7 932.3 L712.7 930.8 L715.6 929.8 L718.5 929.5 L721.5 929.8 L724.4 930.8 L727.4 932.3 L730.3 934.5 M710.3 925.5 L713.2 923.7 L716.2 922.4 L719.1 921.6 L722.0 921.3 L725.0 921.6 L727.9 922.4 L730.9 923.7 L733.8 925.5 M733.8 915.8 L733.8 925.5 M730.3 934.5 L732.3 927.5 M683.3 934.5 L686.2 932.3 L689.2 930.8 L692.1 929.8 L695.0 929.5 L698.0 929.8 L700.9 930.8 L703.9 932.3 L706.8 934.5 M686.8 925.5 L689.7 923.7 L692.7 922.4 L695.6 921.6 L698.5 921.3 L701.5 921.6 L704.4 922.4 L707.4 923.7 L710.3 925.5 M710.3 915.8 L710.3 925.5 M706.8 934.5 L708.8 927.5 M659.8 934.5 L662.7 932.3 L665.7 930.8 L668.6 929.8 L671.5 929.5 L674.5 929.8 L677.4 930.8 L680.4 932.3 L683.3 934.5 M663.3 925.5 L666.2 923.7 L669.2 922.4 L672.1 921.6 L675.0 921.3 L678.0 921.6 L680.9 922.4 L683.9 923.7 L686.8 925.5 M686.8 915.8 L686.8 925.5 M683.3 934.5 L685.3 927.5 M636.3 934.5 L639.2 932.3 L642.2 930.8 L645.1 929.8 L648.0 929.5 L651.0 929.8 L653.9 930.8 L656.9 932.3 L659.8 934.5 M639.8 925.5 L642.7 923.7 L645.7 922.4 L648.6 921.6 L651.5 921.3 L654.5 921.6 L657.4 922.4 L660.4 923.7 L663.3 925.5 M663.3 915.8 L663.3 925.5 M659.8 934.5 L661.8 927.5 M612.8 934.5 L615.7 932.3 L618.7 930.8 L621.6 929.8 L624.5 929.5 L627.5 929.8 L630.4 930.8 L633.4 932.3 L636.3 934.5 M616.3 925.5 L619.2 923.7 L622.2 922.4 L625.1 921.6 L628.0 921.3 L631.0 921.6 L633.9 922.4 L636.9 923.7 L639.8 925.5 M639.8 915.8 L639.8 925.5 M636.3 934.5 L638.3 927.5 M589.3 934.5 L592.2 932.3 L595.2 930.8 L598.1 929.8 L601.0 929.5 L604.0 929.8 L606.9 930.8 L609.9 932.3 L612.8 934.5 M592.8 925.5 L595.7 923.7 L598.7 922.4 L601.6 921.6 L604.5 921.3 L607.5 921.6 L610.4 922.4 L613.4 923.7 L616.3 925.5 M616.3 915.8 L616.3 925.5 M612.8 934.5 L614.8 927.5 M565.1 930.2 L568.7 929.1 L571.9 928.4 L575.0 928.2 L577.9 928.4 L580.7 929.2 L583.5 930.4 L586.3 932.2 L589.3 934.5 M571.2 922.7 L574.2 921.7 L577.1 921.0 L579.7 920.7 L582.3 920.8 L584.8 921.3 L587.3 922.3 L589.9 923.7 L592.8 925.5 M592.8 915.8 L592.8 925.5 M589.3 934.5 L591.3 927.5 M543.6 918.3 L547.4 918.4 L550.7 918.8 L553.6 919.6 L556.3 920.8 L558.7 922.4 L560.9 924.5 L563.0 927.1 L565.1 930.2 M551.8 913.2 L555.0 913.2 L557.9 913.5 L560.6 914.1 L562.9 915.0 L565.1 916.3 L567.2 918.0 L569.2 920.2 L571.2 922.7 M574.0 913.4 L571.2 922.7 M565.1 930.2 L569.2 924.2 M527.1 900.2 L530.6 901.5 L533.7 902.9 L536.2 904.6 L538.3 906.6 L540.1 908.9 L541.5 911.6 L542.7 914.7 L543.6 918.3 M536.5 898.0 L539.6 899.0 L542.2 900.2 L544.5 901.6 L546.5 903.2 L548.1 905.2 L549.5 907.5 L550.7 910.1 L551.8 913.2 M557.4 905.3 L551.8 913.2 M543.6 918.3 L549.5 914.0 M517.4 877.6 L520.3 880.0 L522.7 882.3 L524.6 884.8 L525.9 887.3 L526.8 890.1 L527.3 893.1 L527.4 896.4 L527.1 900.2 M527.0 878.6 L529.6 880.6 L531.7 882.5 L533.4 884.6 L534.7 886.8 L535.7 889.2 L536.2 891.8 L536.5 894.7 L536.5 898.0 M544.4 892.3 L536.5 898.0 M527.1 900.2 L534.1 898.0 M515.5 853.2 L517.5 856.3 L519.0 859.3 L519.9 862.2 L520.4 865.1 L520.4 868.0 L519.9 871.0 L518.9 874.2 L517.4 877.6 M524.2 857.2 L526.0 859.9 L527.4 862.4 L528.4 864.9 L528.9 867.4 L529.0 870.0 L528.7 872.7 L528.0 875.5 L527.0 878.6 M536.3 875.8 L527.0 878.6 M517.4 877.6 L524.7 877.8 M521.6 829.4 L522.4 833.0 L522.9 836.3 L522.9 839.4 L522.4 842.3 L521.4 845.0 L520.0 847.7 L518.0 850.4 L515.5 853.2 M528.6 836.0 L529.4 839.1 L529.9 842.0 L530.0 844.7 L529.6 847.2 L528.9 849.7 L527.8 852.1 L526.2 854.6 L524.2 857.2 M533.9 857.5 L524.2 857.2 M515.5 853.2 L522.3 855.7 M535.0 808.9 L534.6 812.6 L534.0 815.9 L533.0 818.8 L531.6 821.3 L529.8 823.6 L527.6 825.6 L524.8 827.6 L521.6 829.4 M539.5 817.4 L539.3 820.6 L538.8 823.5 L538.0 826.1 L536.9 828.4 L535.4 830.5 L533.6 832.4 L531.3 834.2 L528.6 836.0 M537.6 839.5 L528.6 836.0 M521.6 829.4 L527.2 834.0 M554.4 793.8 L552.8 797.2 L551.1 800.1 L549.3 802.5 L547.1 804.5 L544.7 806.0 L541.9 807.3 L538.7 808.2 L535.0 808.9 M555.9 803.3 L554.6 806.3 L553.2 808.8 L551.6 811.0 L549.8 812.8 L547.8 814.3 L545.4 815.6 L542.6 816.6 L539.5 817.4 M546.9 823.6 L539.5 817.4 M535.0 808.9 L538.9 815.0 M577.6 785.8 L575.0 788.5 L572.5 790.7 L569.9 792.4 L567.3 793.5 L564.5 794.2 L561.4 794.5 L558.1 794.3 L554.4 793.8 M575.9 795.2 L573.7 797.7 L571.6 799.6 L569.4 801.2 L567.1 802.3 L564.7 803.1 L562.0 803.5 L559.1 803.5 L555.9 803.3 M560.9 811.6 L555.9 803.3 M554.4 793.8 L556.0 800.9 M601.6 784.7 L598.7 786.9 L595.7 788.5 L592.8 789.4 L589.8 789.7 L587.0 789.5 L584.0 788.7 L580.9 787.5 L577.6 785.8 M598.1 793.7 L595.2 795.5 L592.2 796.9 L589.4 797.6 L586.9 798.0 L584.3 797.9 L581.7 797.4 L578.9 796.5 L575.9 795.2 M578.0 804.7 L575.9 795.2 M577.6 785.8 L576.9 793.0 M625.1 784.7 L622.2 786.9 L619.2 788.5 L616.3 789.4 L613.3 789.7 L610.4 789.4 L607.5 788.5 L604.5 786.9 L601.6 784.7 M621.6 793.7 L618.7 795.5 L615.7 796.9 L612.8 797.6 L609.8 797.9 L606.9 797.6 L604.0 796.9 L601.0 795.5 L598.1 793.7 M598.1 803.4 L598.1 793.7 M601.6 784.7 L599.6 791.7 M631.5 784.7 L630.7 786.9 L629.9 788.5 L629.1 789.4 L628.3 789.7 L627.5 789.4 L626.7 788.5 L625.9 786.9 L625.1 784.7 M631.5 793.7 L630.3 795.5 L629.0 796.9 L627.8 797.6 L626.5 797.9 L625.3 797.6 L624.1 796.9 L622.8 795.5 L621.6 793.7 M621.6 803.4 L621.6 793.7 M625.1 784.7 L623.1 791.7" stroke-width="3"/>
</g>
<rect x="632" y="771.5" width="36.8" height="32.5" rx="2.5" fill="#fff" stroke="#454545" stroke-width="2.6"/><path d="M634 776.5H663.3V799H634" fill="none" stroke="#454545" stroke-width="1.3"/><path d="M635.2 773.5V802" fill="none" stroke="#454545" stroke-width="1.6"/><circle cx="651.8" cy="780.5" r="1.3" fill="#454545"/><circle cx="659.8" cy="782.5" r="1.3" fill="#454545"/><circle cx="651.8" cy="795" r="1.3" fill="#454545"/><circle cx="659.8" cy="793" r="1.3" fill="#454545"/>
<rect x="866.8" y="914.8" width="40.8" height="31.8" rx="2.5" fill="#fff" stroke="#454545" stroke-width="2.6"/><path d="M868.8 919.8H902.1V941.6H868.8" fill="none" stroke="#454545" stroke-width="1.3"/><path d="M870 916.8V944.6" fill="none" stroke="#454545" stroke-width="1.6"/><circle cx="890.6" cy="923.8" r="1.3" fill="#454545"/><circle cx="898.6" cy="925.8" r="1.3" fill="#454545"/><circle cx="890.6" cy="937.6" r="1.3" fill="#454545"/><circle cx="898.6" cy="935.6" r="1.3" fill="#454545"/>
<g fill="none" stroke="#454545" stroke-width="2.5" stroke-linejoin="round"><path d="M955 772.5 H934 Q930.5 772.5 932 776 L936 786 Q945 790 941 797 L945.5 803.5 H955"/><path d="M937 782 Q947 780 955 784 M942 794 Q948 791 955 794" stroke-width="2"/></g>
<rect x="955.7" y="771.5" width="37" height="32.5" rx="2.5" fill="#fff" stroke="#454545" stroke-width="2.6"/><path d="M957.7 776.5H987.2V799H957.7" fill="none" stroke="#454545" stroke-width="1.3"/><path d="M958.9 773.5V802" fill="none" stroke="#454545" stroke-width="1.6"/><circle cx="975.7" cy="780.5" r="1.3" fill="#454545"/><circle cx="983.7" cy="782.5" r="1.3" fill="#454545"/><circle cx="975.7" cy="795" r="1.3" fill="#454545"/><circle cx="983.7" cy="793" r="1.3" fill="#454545"/>
<path d="M617.5 754.2 H590.1 A109.8 104.9 0 0 0 590.1 964 H624" fill="none" stroke="#4a4a4a" stroke-width="1.2"/>
<path d="M624.9 927 V973.5" stroke="#454545" stroke-width="1.8" fill="none"/>
<path d="M502.1 718 V856 M618.2 716 V792 M939.9 719 V772 M858.4 751 V914 M502.1 724.2 H939.9 M618.2 753.9 H858.4 M755.6 964.9 H847 M813.4 936 V970.5 M832.2 936 V970.5 M907.8 914.5 H966 M907.8 946.6 H1059.5 M957.2 914.5 V946.6 M993 804.3 H1015.5 M993 772.7 H1039 M1008.6 804.3 V946.6 M1033.3 772.7 V946.6 M1058 772.7 V946.6 M684.5 834.5 H627 L610 807.5 M654 880.9 H571 L543.5 860.5 M933 880.9 H882 L879.3 909" fill="none" stroke="#555" stroke-width="1.05"/>
<path d="M502.1 724.2 L512.6 722.3 L512.6 726.1 Z M618.2 724.2 L607.7 726.1 L607.7 722.3 Z M618.2 724.2 L628.7 722.3 L628.7 726.1 Z M939.9 724.2 L929.4 726.1 L929.4 722.3 Z M618.2 753.9 L628.7 752.0 L628.7 755.8 Z M858.4 753.9 L847.9 755.8 L847.9 752.0 Z M618.0 754.2 L607.5 756.1 L607.5 752.3 Z M624.6 964.0 L614.1 965.9 L614.1 962.1 Z M813.4 964.9 L802.9 966.8 L802.9 963.0 Z M832.2 964.9 L842.7 963.0 L842.7 966.8 Z M957.2 914.5 L958.9 923.5 L955.5 923.5 Z M957.2 946.6 L955.5 937.6 L958.9 937.6 Z M1008.6 804.3 L1010.5 814.8 L1006.7 814.8 Z M1008.6 946.6 L1006.7 936.1 L1010.5 936.1 Z M1033.3 772.7 L1035.2 783.2 L1031.4 783.2 Z M1033.3 946.6 L1031.4 936.1 L1035.2 936.1 Z M1058.0 772.7 L1059.9 783.2 L1056.1 783.2 Z M1058.0 946.6 L1056.1 936.1 L1059.9 936.1 Z M609.6 806.8 L615.9 813.5 L612.8 815.4 Z M543.0 860.0 L551.3 864.0 L549.1 866.9 Z M879.3 910.0 L878.3 900.9 L881.9 901.2 Z" fill="#444"/>
<text x="559" y="719" font-size="15.5" text-anchor="middle" font-family="Liberation Sans, sans-serif" fill="#4a4a4a">D</text>
<text x="781.5" y="719" font-size="15.5" text-anchor="middle" font-family="Liberation Sans, sans-serif" fill="#4a4a4a">S</text>
<text x="728.5" y="749" font-size="15.5" text-anchor="middle" font-family="Liberation Sans, sans-serif" fill="#4a4a4a">S/2</text>
<text x="772" y="962" font-size="15.5" text-anchor="middle" font-family="Liberation Sans, sans-serif" fill="#4a4a4a">21</text>
<text x="634.5" y="831.5" font-size="16.5" font-family="Liberation Sans, sans-serif" fill="#4a4a4a">移动端</text>
<text x="573.5" y="877" font-size="16.5" font-family="Liberation Sans, sans-serif" fill="#4a4a4a">弯曲半径R</text>
<text x="884" y="874" font-size="16.5" font-family="Liberation Sans, sans-serif" fill="#4a4a4a">固定端</text>
<text transform="translate(953,937) rotate(-90)" font-size="15.5" text-anchor="middle" font-family="Liberation Sans, sans-serif" fill="#4a4a4a">34</text>
<text transform="translate(1005,875) rotate(-90)" font-size="14.5" text-anchor="middle" font-family="Liberation Sans, sans-serif" fill="#4a4a4a">H-34</text>
<text transform="translate(1029.5,867.5) rotate(-90)" font-size="14.5" text-anchor="middle" font-family="Liberation Sans, sans-serif" fill="#4a4a4a">H</text>
<text transform="translate(1054.5,861) rotate(-90)" font-size="14.5" text-anchor="middle" font-family="Liberation Sans, sans-serif" fill="#4a4a4a">H<tspan font-size="9">F</tspan>=H+34</text>
</svg>
<!--D1B1-->
<div class="t" style="left:77px;top:1017px;font-size:20px;letter-spacing:.95px">适用于直径22mm以下线缆</div>
<div class="t" style="left:407px;top:1017px;font-size:20px;letter-spacing:1.2px">节距=21mm，每米节数=47，链长=S/2+K，S=行程距离，K=π×R+"安全量"</div>
<div class="t" style="left:407px;top:1049px;font-size:20px;letter-spacing:1.1px">安装实际高度：H<span style="font-size:11px">F</span>=H+34mm（负载1kg/m）</div>

<table id="rhd">
<tr><td>R</td><td>H</td><td>D</td></tr>
<tr><td>55</td><td>144</td><td>93</td></tr>
<tr><td>75</td><td>184</td><td>113</td></tr>
<tr><td>100</td><td>234</td><td>138</td></tr>
<tr><td>125</td><td>284</td><td>163</td></tr>
<tr><td>150</td><td>334</td><td>188</td></tr>
</table>

<!--MT0-->
<table id="main" style="left:46px;top:1184px;width:1363px">
<colgroup><col style="width:114px"><col style="width:84.5px"><col style="width:66.5px"><col style="width:115px"><col style="width:121.5px"><col style="width:83px"><col style="width:93px"><col style="width:82.5px"><col style="width:62px"><col style="width:61px"><col style="width:62.5px"><col style="width:62px"><col style="width:61px"><col style="width:62px"><col style="width:232.5px"></colgroup>
<tr style="height:35px"><td class="hd" colspan="2" rowspan="2">型号</td><td class="hd b" rowspan="3">内宽B<sub>1</sub></td><td class="hd b" rowspan="3">弯曲半径R</td><td class="hd b" rowspan="3">款式</td><td class="hd" rowspan="3">外高H<sub>2</sub></td><td class="hd" rowspan="3">外宽B<sub>2</sub></td><td class="hd" colspan="8" style="padding-left:68px">固定接头类型及参数</td></tr>
<tr style="height:35.5px"><td class="hd" rowspan="2">孔径</td><td class="hd" colspan="6" style="padding-left:100px">孔距</td><td class="hd b" rowspan="2">接头型号</td></tr>
<tr style="height:34.5px"><td class="hd b">编码</td><td class="hd b">内高H<sub>1</sub></td><td class="hd">B</td><td class="hd">C<sub>1</sub></td><td class="hd">C<sub>2</sub></td><td class="hd">D</td><td class="hd">E</td><td class="hd">F</td></tr>
<tr style="height:34px"><td class="b" rowspan="6" style="padding-left:28px;padding-top:2px">SL02J</td><td class="b" rowspan="6">25</td><td class="b">25</td><td class="b rr" rowspan="6" style="padding-top:12px">R55<br>R75<br>R100<br>R125<br>R150</td><td class="b" rowspan="6">L(两侧开）</td><td rowspan="6">34</td><td>40.8</td><td rowspan="6" style="padding-top:6px">5.5</td><td>35.5</td><td rowspan="6" style="padding-top:6px">24</td><td rowspan="6" style="padding-top:6px">28</td><td rowspan="6" style="padding-top:6px">17</td><td rowspan="6" style="padding-top:6px">8</td><td>46.8</td><td class="b" style="padding-left:20px">SL02J-25-25C</td></tr>
<tr style="height:34px"><td class="b">38</td><td>53.8</td><td>48.5</td><td>59.8</td><td class="b" style="padding-left:20px">SL02J-25-38C</td></tr>
<tr style="height:33.5px"><td class="b">50</td><td>65.8</td><td>60.5</td><td>71.8</td><td class="b" style="padding-left:20px">SL02J-25-50C</td></tr>
<tr style="height:31.5px"><td class="b">57</td><td>72.8</td><td>67.5</td><td>78.8</td><td class="b" style="padding-left:20px">SL02J-25-57C</td></tr>
<tr style="height:32px"><td class="b">77</td><td>92.8</td><td>87.5</td><td>98.8</td><td class="b" style="padding-left:20px">SL02J-25-77C</td></tr>
<tr style="height:28px"><td class="b">103</td><td>118.8</td><td>113.5</td><td>124.8</td><td class="b" style="padding-left:20px">SL02J-25-103C</td></tr>
</table>
<svg style="left:0;top:0" width="1457" height="1500"><path d="M46 1184H1409M46 1482H1409M46 1184V1482M1409 1184V1482M46 1289H1409M46 1254.5H244.5M160 1254.5V1482M244.5 1184V1482M311 1184V1482M426 1184V1482M547.5 1184V1482M630.5 1184V1482M723.5 1184V1482M723.5 1219H1409M806 1219V1482M1176.5 1219V1482M806 1254.5H1176.5M868 1254.5V1482M929 1254.5V1482M991.5 1254.5V1482M1053.5 1254.5V1482M1114.5 1254.5V1482M244.5 1323H311M630.5 1323H723.5M806 1323H868M1114.5 1323H1409M244.5 1357H311M630.5 1357H723.5M806 1357H868M1114.5 1357H1409M244.5 1390.5H311M630.5 1390.5H723.5M806 1390.5H868M1114.5 1390.5H1409M244.5 1422H311M630.5 1422H723.5M806 1422H868M1114.5 1422H1409M244.5 1454H311M630.5 1454H723.5M806 1454H868M1114.5 1454H1409" fill="none" stroke="#5c6167" stroke-width="1.45"/></svg>
<!--MT1-->

<div class="t" style="left:44px;top:1512px;font-size:20.5px">固定接头类型及参数（见上表格）</div>
<div class="box" style="left:44px;top:1548px;width:1365px;height:323px"></div>
<!--D20-->
<svg id="d2" style="left:0;top:0" width="600" height="1900" viewBox="0 0 600 1900">
<g transform="translate(80,1590) scale(0.2059)" fill="none" stroke="#454545" stroke-linejoin="round">
<rect x="425" y="490" width="110" height="555" fill="#fff" stroke-width="9"/>
<rect x="428" y="572" width="104" height="392" fill="#4a4a4a" stroke="none"/>
<path d="M437 575V961 M451.2 575V961 M465.4 575V961 M479.6 575V961 M493.8 575V961 M508 575V961 M522.2 575V961" stroke="#8a8a8a" stroke-width="3"/>
<path d="M428 768H532" stroke="#3a3a3a" stroke-width="5"/>
<rect x="449" y="510" width="62" height="36" rx="10" stroke-width="8" fill="#fff"/>
<rect x="449" y="995" width="62" height="36" rx="10" stroke-width="8" fill="#fff"/>
<rect x="610" y="490" width="110" height="555" fill="#fff" stroke-width="9"/>
<rect x="613" y="572" width="104" height="392" fill="#4a4a4a" stroke="none"/>
<path d="M622 575V961 M636.2 575V961 M650.4 575V961 M664.6 575V961 M678.8 575V961 M693 575V961 M707.2 575V961" stroke="#8a8a8a" stroke-width="3"/>
<path d="M613 768H717" stroke="#3a3a3a" stroke-width="5"/>
<rect x="634" y="510" width="62" height="36" rx="10" stroke-width="8" fill="#fff"/>
<rect x="634" y="995" width="62" height="36" rx="10" stroke-width="8" fill="#fff"/>
<rect x="795" y="490" width="110" height="555" fill="#fff" stroke-width="9"/>
<rect x="798" y="572" width="104" height="392" fill="#4a4a4a" stroke="none"/>
<path d="M807 575V961 M821.2 575V961 M835.4 575V961 M849.6 575V961 M863.8 575V961 M878 575V961 M892.2 575V961" stroke="#8a8a8a" stroke-width="3"/>
<path d="M798 768H902" stroke="#3a3a3a" stroke-width="5"/>
<rect x="819" y="510" width="62" height="36" rx="10" stroke-width="8" fill="#fff"/>
<rect x="819" y="995" width="62" height="36" rx="10" stroke-width="8" fill="#fff"/>
<rect x="982" y="490" width="108" height="555" fill="#fff" stroke-width="9"/>
<rect x="985" y="572" width="102" height="392" fill="#4a4a4a" stroke="none"/>
<path d="M994 575V961 M1008.2 575V961 M1022.4 575V961 M1036.6 575V961 M1050.8 575V961 M1065 575V961 M1079.2 575V961" stroke="#8a8a8a" stroke-width="3"/>
<path d="M985 768H1087" stroke="#3a3a3a" stroke-width="5"/>
<rect x="1005" y="510" width="62" height="36" rx="10" stroke-width="8" fill="#fff"/>
<rect x="1005" y="995" width="62" height="36" rx="10" stroke-width="8" fill="#fff"/>
<rect x="1168" y="490" width="107" height="555" fill="#fff" stroke-width="9"/>
<rect x="1171" y="572" width="101" height="392" fill="#4a4a4a" stroke="none"/>
<path d="M1180 575V961 M1194.2 575V961 M1208.4 575V961 M1222.6 575V961 M1236.8 575V961 M1251 575V961 M1265.2 575V961" stroke="#8a8a8a" stroke-width="3"/>
<path d="M1171 768H1272" stroke="#3a3a3a" stroke-width="5"/>
<rect x="1190.5" y="510" width="62" height="36" rx="10" stroke-width="8" fill="#fff"/>
<rect x="1190.5" y="995" width="62" height="36" rx="10" stroke-width="8" fill="#fff"/>
<path d="M340 405 H575 L635 435 H1030 L1075 405 H1330 V490 H340 Z" fill="#fff" stroke-width="9"/>
<path d="M340 1128 H575 L635 1100 H1030 L1075 1128 H1330 V1045 H340 Z" fill="#fff" stroke-width="9"/>
<path d="M376 410 V486 M1300 410 V486 M376 1049 V1124 M1300 1049 V1124" stroke-width="4.5"/>
<path d="M640 465 V440 H750 V465 H660 M750 452 H760 V475 M820 465 V440 H925 V465 H838 M925 455 H935 V478" stroke-width="6"/>
<path d="M640 1072 V1098 H750 V1072 H660 M750 1085 H742 V1060 M820 1072 V1098 H925 V1072 H838 M925 1082 H933 V1058" stroke-width="6"/>
<circle cx="475" cy="445" r="20" stroke-width="6" fill="#fff"/><path d="M445 445H505 M475 415V475" stroke-width="4"/>
<circle cx="1215" cy="445" r="20" stroke-width="6" fill="#fff"/><path d="M1185 445H1245 M1215 415V475" stroke-width="4"/>
<circle cx="475" cy="1085" r="20" stroke-width="6" fill="#fff"/><path d="M445 1085H505 M475 1055V1115" stroke-width="4"/>
<circle cx="1215" cy="1085" r="20" stroke-width="6" fill="#fff"/><path d="M1185 1085H1245 M1215 1055V1115" stroke-width="4"/>
<path d="M342 310 V400 M478 310 V425 M342 340 H478 M1218 320 V425 M1330 320 V400 M1218 345 H1330 M120 408 H335 M120 1128 H335 M147 408 V1128 M240 447 H392 M240 1088 H395 M268 447 V1088 M1350 408 H1420 M1350 1128 H1420 M1392 408 V1128 M342 1150 V1265 M735 1130 V1265 M342 1240 H735 M980 1130 V1285 M1328 1150 V1285 M980 1258 H1328" stroke="#555" stroke-width="4.2"/>
<path d="M342.0 340.0 L382.0 331.0 L382.0 349.0 Z M478.0 340.0 L438.0 349.0 L438.0 331.0 Z M1218.0 345.0 L1254.0 336.0 L1254.0 354.0 Z M1330.0 345.0 L1294.0 354.0 L1294.0 336.0 Z M147.0 408.0 L156.0 458.0 L138.0 458.0 Z M147.0 1128.0 L138.0 1078.0 L156.0 1078.0 Z M268.0 447.0 L277.0 497.0 L259.0 497.0 Z M268.0 1088.0 L259.0 1038.0 L277.0 1038.0 Z M1392.0 408.0 L1401.0 458.0 L1383.0 458.0 Z M1392.0 1128.0 L1383.0 1078.0 L1401.0 1078.0 Z M342.0 1240.0 L392.0 1231.0 L392.0 1249.0 Z M735.0 1240.0 L685.0 1249.0 L685.0 1231.0 Z M980.0 1258.0 L1030.0 1249.0 L1030.0 1267.0 Z M1328.0 1258.0 L1278.0 1267.0 L1278.0 1249.0 Z" fill="#444" stroke="none"/>
</g>
<g fill="none" stroke="#454545" stroke-linejoin="round">
<rect x="397.5" y="1674.6" width="52.9" height="146.8" rx="1.5" stroke-width="3" fill="#fff"/>
<path d="M397.5 1691.8 H450.4 M397.5 1805 H450.4" stroke-width="2.6"/>
<path d="M403 1676 V1692 M445 1676 V1692 M403 1805 V1820 M445 1805 V1820" stroke-width="1"/>
<rect x="403" y="1692" width="42" height="112.8" rx="3.5" stroke-width="2.4"/>

<path d="M400.2 1708 V1788 M447.7 1708 V1788" stroke-width="1.3"/>
<circle cx="423.6" cy="1682" r="4.2" stroke-width="1.7" fill="#fff"/><path d="M417 1682H430.2 M423.6 1675.5V1688.5" stroke-width="0.9"/>
<circle cx="423.6" cy="1814" r="4.2" stroke-width="1.7" fill="#fff"/><path d="M417 1814H430.2 M423.6 1807.5V1820.5" stroke-width="0.9"/>
<path d="M423.6 1823 V1850 M451.5 1823 V1850 M423.6 1844.2 H451.5" stroke="#555" stroke-width="0.9"/>
</g>
<path d="M423.6 1844.2 l8.5 -1.8 v3.6z M451.5 1844.2 l-8.5 -1.8 v3.6z" fill="#444"/>
<text x="164.5" y="1626" font-size="17" text-anchor="middle" font-family="Liberation Sans, sans-serif" fill="#4a4a4a">固定端</text>
<text x="254.5" y="1626" font-size="17" text-anchor="middle" font-family="Liberation Sans, sans-serif" fill="#4a4a4a">主体</text>
<text x="343.5" y="1626" font-size="17" text-anchor="middle" font-family="Liberation Sans, sans-serif" fill="#4a4a4a">移动端</text>
<text x="164" y="1656.5" font-size="18" text-anchor="middle" font-family="Liberation Sans, sans-serif" fill="#4a4a4a">E</text>
<text x="344" y="1655.5" font-size="18" text-anchor="middle" font-family="Liberation Sans, sans-serif" fill="#4a4a4a">E</text>
<text transform="translate(102,1751.5) rotate(-90)" font-size="18" text-anchor="middle" font-family="Liberation Sans, sans-serif" fill="#4a4a4a">F</text>
<text transform="translate(130.5,1751.5) rotate(-90)" font-size="18" text-anchor="middle" font-family="Liberation Sans, sans-serif" fill="#4a4a4a">B</text>
<text transform="translate(363.5,1746) rotate(-90)" font-size="18" text-anchor="middle" font-family="Liberation Sans, sans-serif" fill="#4a4a4a">F</text>
<text x="193" y="1842.5" font-size="18" text-anchor="middle" font-family="Liberation Sans, sans-serif" fill="#4a4a4a">C<tspan font-size="10.5" dx="4">1</tspan></text>
<text x="313" y="1845" font-size="18" text-anchor="middle" font-family="Liberation Sans, sans-serif" fill="#4a4a4a">C<tspan font-size="10.5" dx="3">2</tspan></text>
<text x="438.3" y="1838.5" font-size="18" text-anchor="middle" font-family="Liberation Sans, sans-serif" fill="#4a4a4a">D</text>
</svg>
<!--D21-->

<!-- order example -->
<svg id="cartSvg" style="left:42px;top:1888px" width="46" height="46" viewBox="0 0 46 46">
<rect x="0.5" y="0.8" width="44.3" height="44.4" rx="3.5" fill="#d3e9f8" stroke="#8ea9bc" stroke-width="1"/>
<g fill="none" stroke="#586470" stroke-width="1.5" stroke-linecap="round" stroke-linejoin="round">
<path d="M4.8 12.6H9.3L13.6 28.6H33.5"/>
<path d="M10.6 17.8H24"/>
<path d="M12.2 23.6H33.3"/>
<circle cx="14.3" cy="33.9" r="2.4"/><circle cx="33.1" cy="33.9" r="2.4"/>
<circle cx="30.1" cy="16" r="5.6" fill="#d3e9f8"/>
<path d="M27.4 16H32.8M30.1 13.3V18.7"/>
</g></svg>
<div class="t" style="left:98px;top:1902px;font-size:20.5px;letter-spacing:.25px">订货范例</div>
<svg id="chev2" style="left:0;top:0" width="300" height="1922" viewBox="0 0 300 1922"><path fill="#86aea6" d="M192.2 1905.4 L195.1 1905.4 L200.6 1911.2 L195.1 1917 L192.2 1917 L197.7 1911.2Z"/><path fill="#1c8c82" d="M200.35 1905.4 L203.25 1905.4 L208.75 1911.2 L203.25 1917 L200.35 1917 L205.85 1911.2Z"/><path fill="#1661aa" d="M208.5 1905.4 L211.4 1905.4 L216.9 1911.2 L211.4 1917 L208.5 1917 L214 1911.2Z"/></svg>
<div class="t" style="left:250px;top:1901px;font-size:20.5px;font-weight:bold;color:#c4122f;letter-spacing:1.8px">SL02J-25-25-R55L+长度（米或节数）+接头型号</div>
</body>
</html>
